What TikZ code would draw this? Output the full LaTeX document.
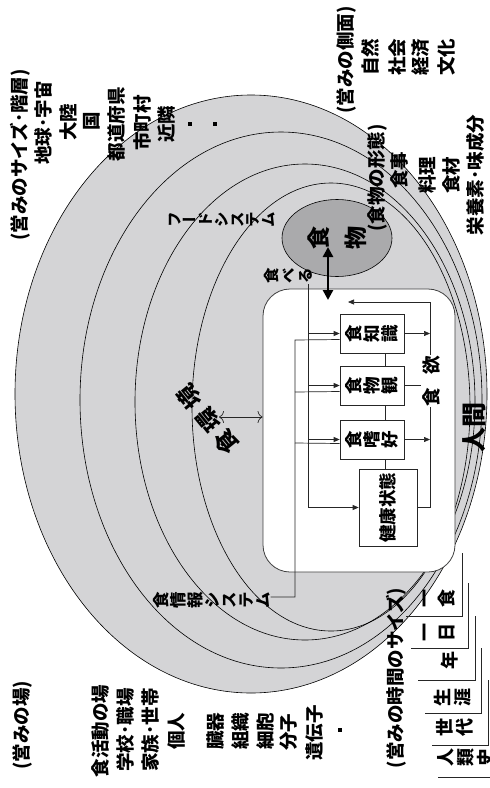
\documentclass[tikz,border=0pt]{standalone}
\usepackage{fontspec}
\usetikzlibrary{arrows.meta,shapes.geometric}
\newfontfamily\jp{Noto Sans CJK JP}
\newfontfamily\jpv{Noto Sans CJK JP}[RawFeature={+vert}]
\definecolor{bggray}{RGB}{212,212,214}
\definecolor{foodgray}{RGB}{170,170,172}
% vertical (tategaki) stack, rows separated by \cr, pitch = baselineskip
\newcommand\tv[1]{\rotatebox{90}{\vbox{\lineskiplimit=-100pt\lineskip=0pt\halign{\hfil##\hfil\cr#1\crcr}}}}
\begin{document}
\begin{tikzpicture}[x=1pt,y=-1pt,
 ell/.style={draw=black, line width=0.6pt},
 lbl/.style={inner sep=0pt, font=\jp\bfseries\fontsize{18.5}{18.5}\selectfont, rotate=90},
 tlbl/.style={inner sep=0pt, font=\jpv\bfseries\fontsize{18}{20}\selectfont},
 ln/.style={draw=black!85, line width=0.7pt},
 arr/.style={ln, -{Triangle[length=6pt,width=5pt]}},
 ibox/.style={draw=black!85, line width=0.7pt, fill=white, inner sep=0pt, font=\jpv\bfseries\fontsize{17.5}{18}\selectfont},
 dot/.style={fill=black},
]
\useasboundingbox (0,0) rectangle (490,788);
\clip (0,0) rectangle (490,788);

% nested ellipses
\fill[bggray] (251,394) ellipse [x radius=236pt, y radius=299pt];
\draw[ell] (251,394) ellipse [x radius=236pt, y radius=299pt];
\draw[ell] (281,400) ellipse [x radius=201pt, y radius=268pt];
\draw[ell] (305,402) ellipse [x radius=170pt, y radius=238pt];
\draw[ell] (331,407) ellipse [x radius=139pt, y radius=224pt];

% human box
\node[draw=black!75, line width=0.8pt, fill=white, rounded corners=27pt, minimum width=192pt, minimum height=283pt] (hbox) at (359,430.5) {};

% food ellipse
\node[ellipse, draw=black, line width=0.6pt, fill=foodgray, minimum width=110pt, minimum height=77pt, inner sep=0pt,
      font=\jpv\bfseries\fontsize{23}{37}\selectfont] (food) at (337,238) {\tv{食\cr 物}};

\coordinate (eatTop) at (328,247);
\coordinate (eatBot) at (328,300);
\draw[line width=2.6pt, {Triangle[length=10pt,width=10pt]}-{Triangle[length=10pt,width=10pt]}] (eatTop) -- (eatBot);
\node[tlbl, font=\jpv\bfseries\fontsize{15.5}{17}\selectfont] (eat) at (288,276) {\tv{食\cr べ\cr る}};

% inner boxes
\node[ibox, minimum width=64pt, minimum height=39pt] (kn) at (372,333.5) {\tv{食\cr 知\cr 識}};
\node[ibox, minimum width=64pt, minimum height=39pt] (fv) at (372,385.5) {\tv{食\cr 物\cr 観}};
\node[ibox, minimum width=64pt, minimum height=39pt] (pr) at (372,439.5) {\tv{食\cr 嗜\cr 好}};
\node[ibox, minimum width=58pt, minimum height=77pt, font=\jp\bfseries\fontsize{17.5}{18}\selectfont] (hs) at (388,507.5) {\rotatebox{90}{健康状態}};

\draw[ln] ([xshift=13pt]kn.south) -- ([xshift=13pt]fv.north);
\draw[ln] ([xshift=13pt]fv.south) -- ([xshift=13pt]pr.north);
\draw[ln] ([xshift=13pt]pr.south) -- ([xshift=-3pt]hs.north);

% left feed lines (from eating)
\coordinate (la) at (308,284);
\coordinate (lb) at (308,507.5);
\draw[ln] (la) -- (lb);
\draw[arr] (la |- kn.west) -- (kn.west);
\draw[arr] (la |- fv.west) -- (fv.west);
\draw[arr] (la |- pr.west) -- (pr.west);
\draw[arr] (lb) -- (hs.west);

% right lines (appetite)
\coordinate (ra) at (430,302);
\coordinate (rb) at (430,507.5);
\draw[ln] (ra) -- (rb) -- (hs.east);
\draw[arr] (ra) -- (348,302);
\draw[arr] (kn.east) -- (kn.east -| ra);
\draw[arr] (fv.east) -- (fv.east -| ra);
\draw[arr] (pr.east) -- (pr.east -| ra);
\node[lbl, fill=white, inner sep=1pt] (appetite) at (431,381) {食\hspace{13pt}欲};

% food information system
\node[tlbl, font=\jpv\bfseries\fontsize{16.5}{17}\selectfont] (fis) at (212,600) {\tv{食\cr 情\cr 報\cr シ\cr ス\cr テ\cr ム}};
\coordinate (fa) at (295,597);
\coordinate (fb) at (295,340);
\draw[ln] (fis.east |- fa) -- (fa) -- (fb) -- ([yshift=-6pt]kn.west);
\draw[ln] (295,392) -- ([yshift=-6pt]fv.west);
\draw[ln] (295,443) -- ([yshift=-4pt]pr.west);

% food system
\node[tlbl, font=\jpv\bfseries\fontsize{15.5}{15.7}\selectfont] (fs) at (222,220) {\tv{フ\cr ー\cr ド\cr シ\cr ス\cr テ\cr ム}};

% food environment
\node[inner sep=0pt, rotate=129, font=\jp\bfseries\fontsize{23}{23}\selectfont] (env) at (208,420) {食\hspace{6pt}環\hspace{6pt}境};
\draw[ln, {To[length=5pt,width=12pt]}-{To[length=5pt,width=12pt]}] (219,417) -- (hbox.west |- 0,417);

% human
\node[lbl, font=\jp\bfseries\fontsize{25}{25}\selectfont] (human) at (474,427) {人間};

% size / hierarchy
\node[lbl] (h1) at (20,155) {(営みのサイズ･階層)};
\node[lbl] at (43,123) {地球･宇宙};
\node[lbl] at (68,122) {大陸};
\node[lbl] at (92,121) {国};
\node[lbl] at (117,124) {都道府県};
\node[lbl] at (142,123) {市町村};
\node[lbl] at (167,124) {近隣};
\fill[dot] (188,122) rectangle (192,126);
\fill[dot] (213,122) rectangle (217,126);

% aspects
\node[lbl] (h2) at (346,60) {(営みの側面)};
\node[lbl] at (370,57) {自然};
\node[lbl] at (397,57) {社会};
\node[lbl] at (421,57) {経済};
\node[lbl] at (447,57) {文化};

% food forms
\node[lbl] (h3) at (377,178) {(食物の形態)};
\node[lbl] at (399,170) {食事};
\node[lbl] at (427,175) {料理};
\node[lbl] at (451,175) {食材};
\node[lbl] at (475,175) {栄養素･味成分};

% places
\node[lbl] (h4) at (22,725) {(営みの場)};
\node[lbl] at (101,731) {食活動の場};
\node[lbl] at (125,730) {学校･職場};
\node[lbl] at (150,730) {家族･世帯};
\node[lbl] at (176,731) {個人};
\node[lbl] at (215,731) {臓器};
\node[lbl] at (241,731) {組織};
\node[lbl] at (265,731) {細胞};
\node[lbl] at (289,732) {分子};
\node[lbl] at (315,733) {遺伝子};
\fill[dot] (338,728) rectangle (342,732);

% time
\node[lbl] (h5) at (396,678) {(営みの時間のサイズ)};
\node[tlbl, font=\jpv\bfseries\fontsize{18}{22}\selectfont] at (439,598) {\tv{一\cr 食}};
\node[tlbl, font=\jpv\bfseries\fontsize{18}{22}\selectfont] at (439,632) {\tv{一\cr 日}};
\node[tlbl] at (450,660) {\tv{年}};
\node[tlbl] at (453,697) {\tv{生\cr 涯}};
\node[tlbl] at (455,727) {\tv{世\cr 代}};
\node[tlbl] at (466,757) {\tv{人\cr 類\cr 史}};

\draw[ln] (462,553) -- (462,616) -- (406,616);
\draw[ln] (468.5,583) -- (468.5,648) -- (411,648);
\draw[ln] (475,616) -- (475,680) -- (418,680);
\draw[ln] (481.5,648) -- (481.5,713) -- (425,713);
\draw[ln] (488,680) -- (488,745) -- (432,745);
\draw[ln] (494,712) -- (494,777) -- (438,777);
\end{tikzpicture}
\end{document}
